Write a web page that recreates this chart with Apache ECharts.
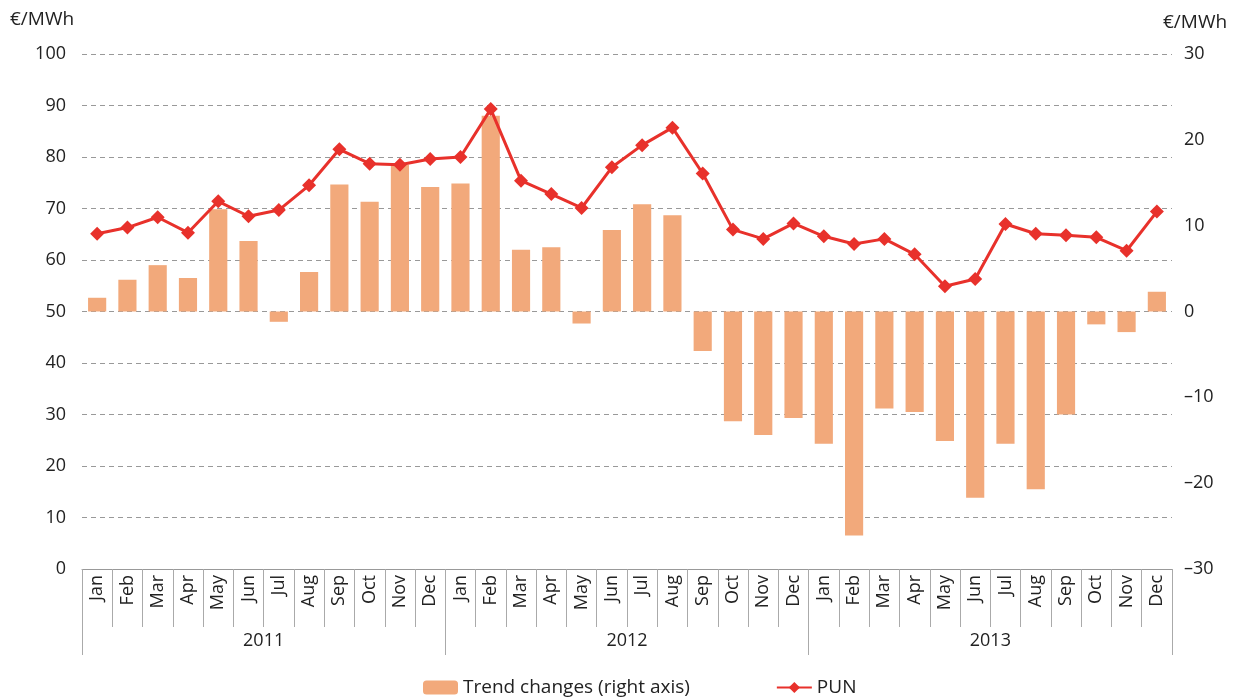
<!DOCTYPE html>
<html>
<head>
    <meta charset="utf-8">
    <script src="https://cdn.jsdelivr.net/npm/echarts@6/dist/echarts.min.js"></script>
</head>
<body style="margin:0">
<div id="main" style="width: 1236px;height:697px;"></div>
<script type="text/javascript">
    // months, years and the two series
    var months = ['Jan','Feb','Mar','Apr','May','Jun','Jul','Aug','Sep','Oct','Nov','Dec'];
    var years = ['2011', '2012', '2013'];
    var categories = [].concat(months, months, months);

    // PUN, €/MWh (left axis)
    var pun = [65.1, 66.3, 68.3, 65.3, 71.4, 68.5, 69.7, 74.5, 81.5, 78.7, 78.5, 79.6,
               80.0, 89.3, 75.4, 72.8, 70.1, 78.0, 82.3, 85.7, 76.8, 65.9, 64.1, 67.1,
               64.6, 63.1, 64.1, 61.1, 54.9, 56.3, 67.0, 65.1, 64.8, 64.4, 61.8, 69.4];

    // trend changes, €/MWh (right axis)
    var trend = [1.6, 3.7, 5.4, 3.9, 11.9, 8.2, -1.2, 4.6, 14.8, 12.8, 17.1, 14.5,
                 14.9, 22.8, 7.2, 7.5, -1.4, 9.5, 12.5, 11.2, -4.6, -12.8, -14.4, -12.4,
                 -15.4, -26.1, -11.3, -11.7, -15.1, -21.7, -15.4, -20.7, -12.0, -1.5, -2.4, 2.3];

    var font = 'Open Sans';
    var myChart = echarts.init(document.getElementById('main'));

    var option = {
        animation: false,
        textStyle: {fontFamily: font},
        grid: {left: 82, right: 64, top: 54, bottom: 128},
        legend: {
            top: 673,
            left: 418,
            itemWidth: 35,
            itemHeight: 14,
            itemGap: 86,
            textStyle: {fontSize: 19, color: '#222', fontFamily: font},
            data: ['Trend changes (right axis)', 'PUN']
        },
        graphic: [
            {type: 'text', left: 10, top: 10, style: {text: '€/MWh', fontSize: 19, fill: '#222', fontFamily: font}},
            {type: 'text', left: 1163, top: 13, style: {text: '€/MWh', fontSize: 19, fill: '#222', fontFamily: font}}
        ],
        xAxis: [
            {
                type: 'category',
                data: categories,
                axisLine: {show: true, onZero: false, lineStyle: {color: '#999'}},
                axisTick: {show: true, interval: 0, length: 58, lineStyle: {color: '#aaa'}},
                axisLabel: {interval: 0, rotate: 90, margin: 6, fontSize: 18, color: '#222'}
            },
            {
                type: 'category',
                position: 'bottom',
                data: years,
                axisLine: {show: false, onZero: false},
                axisTick: {show: true, interval: 0, length: 86, lineStyle: {color: '#aaa'}},
                axisLabel: {margin: 63, fontSize: 18, color: '#222'}
            }
        ],
        yAxis: [
            {
                type: 'value',
                min: 0, max: 100, interval: 10,
                axisLine: {show: false},
                axisTick: {show: false},
                axisLabel: {margin: 16, fontSize: 18, color: '#222'},
                splitLine: {lineStyle: {type: [5, 4], color: '#999', width: 1.2}}
            },
            {
                type: 'value',
                min: -30, max: 30, interval: 10,
                axisLine: {show: false},
                axisTick: {show: false},
                axisLabel: {
                    margin: 12, fontSize: 18, color: '#222',
                    formatter: function (v) { return String(v).replace('-', '–'); }
                },
                splitLine: {show: false}
            }
        ],
        series: [
            {
                name: 'Trend changes (right axis)',
                type: 'bar',
                yAxisIndex: 1,
                data: trend,
                barWidth: '60%',
                itemStyle: {color: '#F2A97B'}
            },
            {
                name: 'PUN',
                type: 'line',
                yAxisIndex: 0,
                data: pun,
                symbol: 'diamond',
                symbolSize: 14,
                lineStyle: {color: '#E8312B', width: 3},
                itemStyle: {color: '#E8312B'},
                z: 5
            }
        ]
    };

    myChart.setOption(option);
</script>
</body>
</html>
